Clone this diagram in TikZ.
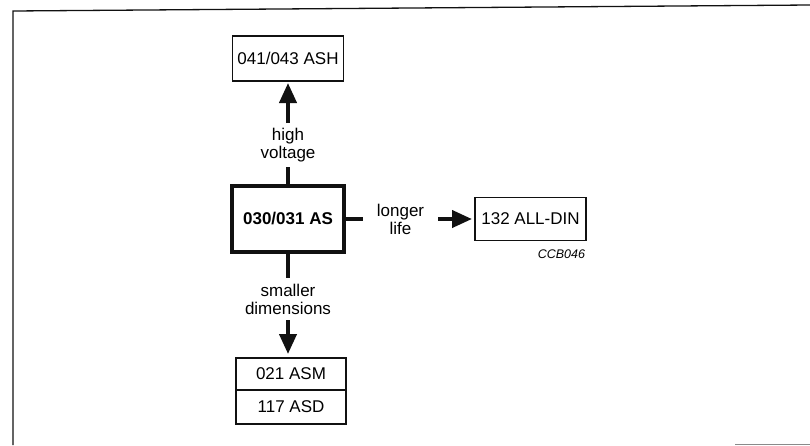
\documentclass[tikz,border=0pt]{standalone}
\usepackage{fontspec}
\setmainfont{Liberation Sans}
\usetikzlibrary{arrows.meta, positioning}
\definecolor{ccbink}{HTML}{111111}
\definecolor{ccbgray}{HTML}{8A8A8A}
\tikzset{
  typebox/.style={rectangle, draw=ccbink, line width=1.5pt, outer sep=0pt, minimum width=111pt,
    minimum height=45pt, font=\fontsize{17}{19}\selectfont, align=center, fill=white},
  mainbox/.style={typebox, line width=3.5pt, minimum width=112pt, minimum height=66pt,
    font=\fontsize{17}{19}\selectfont\bfseries},
  halfbox/.style={typebox, minimum width=110pt, minimum height=32pt},
  why/.style={rectangle, inner sep=0pt, outer sep=0pt, align=center,
    font=\fontsize{17}{18}\selectfont},
  link/.style={line width=4pt, ccbink},
  arr/.style={-{Triangle[length=20pt, width=17pt]}, line width=4pt, ccbink},
  frameline/.style={line width=1.3pt, ccbink},
}
\begin{document}
\begin{tikzpicture}[x=1pt, y=-1pt]
    \useasboundingbox (0,0) rectangle (810,445);
    \draw[frameline] (13,445) -- (13,11) -- (810,5);
    \draw[ccbgray, line width=1pt] (735,444) -- (810,444);

    \node[mainbox] (main) at (288,219) {030/031 AS};

    \node[why, minimum height=44pt, above=19pt of main] (hv) {high\\voltage};
    \node[typebox, above=105pt of main] (ash) {041/043 ASH};

    \node[why, minimum width=75pt, right=19pt of main] (ll) {longer\\life};
    \node[typebox, minimum height=43pt, right=131pt of main] (din) {132 ALL-DIN};
    \node[why, font=\fontsize{12.5}{14}\selectfont\itshape, below left=9pt and 1pt of din.south east] (code) {CCB046};

    \node[why, minimum height=42pt, below=26pt of main] (sd) {smaller\\dimensions};
    \node[halfbox, below=106pt of main, xshift=3pt] (asm) {021 ASM};
    \node[halfbox, minimum height=34pt, below=0pt of asm] (asd) {117 ASD};

    \draw[link] (main.north) -- (hv.south);
    \draw[link] (main.east) -- (ll.west);
    \draw[link] (main.south) -- (sd.north);
    \draw[arr, shorten >=2pt] (hv.north) -- (ash.south);
    \draw[arr, shorten >=3pt] (ll.east) -- (din.west);
    \draw[arr, shorten >=4pt] (sd.south) -- (sd.south |- asm.north);
  \end{tikzpicture}
\end{document}
